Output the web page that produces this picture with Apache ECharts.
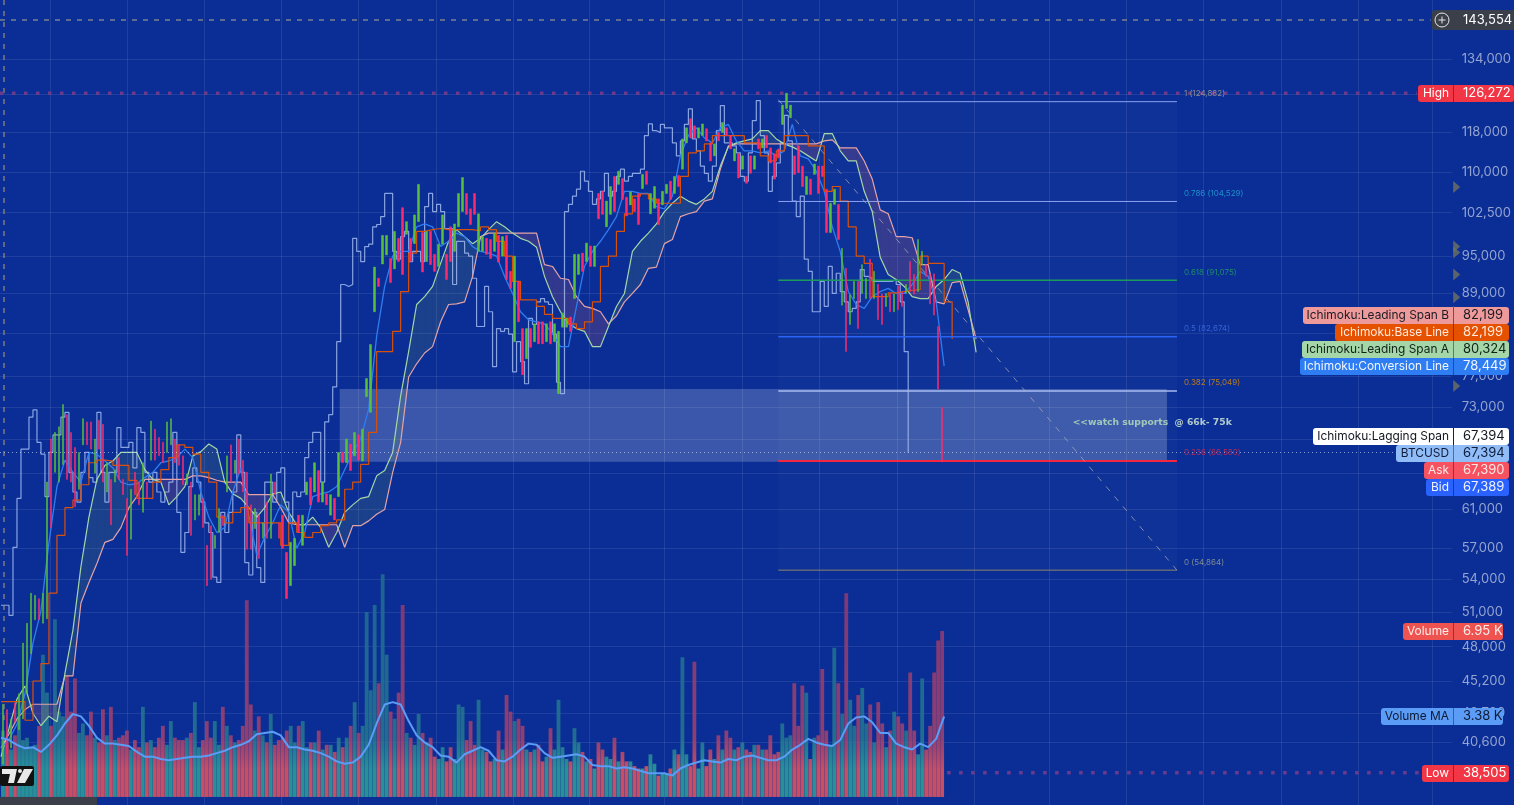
<!DOCTYPE html>
<html><head><meta charset="utf-8">
<style>html,body{margin:0;padding:0;background:#0a2e96;overflow:hidden}#c{width:1514px;height:805px}</style>
<script src="https://cdn.jsdelivr.net/npm/echarts@6/dist/echarts.min.js"></script>
</head><body><div id="c"></div>
<script>
// prices in thousands of USD, candles one per slot
const candleOpen=[39.1,43.0,40.2,43.5,41.5,42.3,44.2,47.4,50.3,52.2,50,50.4,69,65.1,64,66,72,69.8,68,63.2,68.3,71.1,71.1,65,71.3,
70.8,62.9,64.3,64,66.8,64.3,62.2,57.9,65.1,64,60.7,64,66.5,70.2,69.2,68.6,67.4,68.3,69,68.3,67,63.7,64,59.9,60.4,
62.2,57.3,59.3,57,58.6,60.4,62.9,68.3,65,69,66.5,65.1,61.5,59,60.4,58,61.8,58,64,59.6,60.4,56.6,53.4,55.3,60.4,
57.3,62.6,64.5,62.9,65.3,61.8,62.7,60.4,62.2,62.4,67.4,66.2,68.4,67,69.5,66.4,74.3,72.3,86.2,91.4,93.7,95.2,94.6,92.9,98,
103.4,98.7,98,97.1,100.9,99,94.1,99.2,95.3,93.3,97,95.3,100,95.8,100,102.7,106,103.2,106,95.8,95.8,98,97.8,95.8,98.5,
95,98.5,92.5,81.8,90.9,83.7,79.4,83.7,81.8,84.7,84.7,81.8,84.7,81.8,74.7,83.9,83.9,85.4,88.2,92,95.5,94.1,96.7,93.3,106,
106.4,100,102.2,109.2,107.7,108.8,105.3,103.9,105,106,106.9,110.2,102.3,103.3,105,103.9,106,108.3,106,109.4,110.6,115.8,120.8,119.3,116.8,
117.3,118.7,115.8,113.2,117.9,117.9,118.9,117.3,112.2,113.6,110.6,109.2,113.2,110.6,116.6,114.8,117.3,114.8,113.6,114.6,119.6,123,121,113.2,115.2,
111.2,105.8,108.7,109.6,111.2,111.2,106.8,99,104,104,87.2,93,84.3,88.2,90.9,89,88.2,94.5,88.2,90.4,88.9,87,89,86.2,90.2,
89.3,89,94.1,92,89.3,93.6,93.6,92,92.1,84,72.9];
const candleClose=[43.4,39.8,42.3,42.1,44.2,48.3,50,52.7,52.5,50.3,52.7,64,59.1,69.8,70.5,73.3,64.3,64,61.3,67.4,71.5,68.3,67.8,69,67.8,
64,66.2,59.4,65.4,64.3,62.6,56.3,63.2,62.6,61.5,66.2,62.2,71.2,66.5,67,66.2,71.1,71.5,66.2,65.9,63.7,64.9,58.3,62.6,62.6,
59.1,53.4,54,58.3,61.1,59.3,67,64,66.5,64.9,62.9,56.9,56.9,61.1,56,59.6,58,64.9,62.6,58,57,52.2,57.6,58,58.6,
60.4,64,61.5,66.2,61.8,64,61.5,62.6,59.9,67.4,66.2,69,65.3,69.8,66.5,70.2,76.7,81.4,93.2,90.1,98.5,98.5,90.7,99.2,94.1,
92,100.9,94.1,102.1,107.7,92.4,99.2,93.6,92.5,97,102.1,91.2,94.1,100.5,106,109,102.2,100.4,102.2,102.3,98.3,95.3,94.6,98.9,94,
98.3,91.2,89.8,95,84.7,77.2,83.7,81,84.4,81.5,81.5,84.4,81.5,84.4,83.3,86,85.2,83.3,95.3,95.3,92.5,97.2,93.3,96.7,101.4,
102.2,104.6,107.3,102.7,110.2,104.9,101.9,106.3,102.7,100.4,109.6,107.7,106,107.3,100.4,106.4,107.7,104.9,109.2,107.3,116.6,118.9,116.8,116.8,118.9,
119.7,116.2,112.2,115.6,116.2,120,117.3,114.6,114.6,108.9,113.2,107.9,109.8,113.2,114.6,116.6,114.8,111.8,108.7,112.8,123.7,126.3,123.7,109.6,109.9,
107.3,109.2,105.8,111.6,106,109.2,99,104.2,106.8,97.8,96.3,80.4,88.8,90.9,83.7,93.6,91.4,88.2,92.5,85,84.3,89,86.2,88.9,86.5,
87,90.4,89.3,88.9,97.8,95.8,91.7,87.4,85.7,75.3,66.3];
// one value every two slots
const conversionLine=[40.2,40.8,41.9,44.2,48.3,51.1,57.6,63.5,66.5,65.1,64,67.4,67.2,66.4,65.6,64,63.7,63.8,64.5,65.1,66.2,66.4,66.8,67.8,66.8,62.9,60.2,58.6,59.1,62.9,65.6,60.4,56.3,58.1,59.6,61.5,60.7,57,58.6,62.4,62.7,62.9,63.5,65.4,67.4,69,72.7,82.6,90.1,95,95.8,95.8,100,100.5,100,96.6,97.5,98.9,98.3,96.6,95.8,95.5,95,91.7,89,86.2,85,84.7,84.4,83,81.1,81.1,87,93.3,95.8,97.5,99.5,101.8,106.4,106.4,106,106,103.6,103.2,105.5,113.2,117.3,118.9,116.8,115.8,118.9,119.6,116.2,114.2,114.2,113.8,114.2,113.2,114.2,119.6,113.2,112.6,110.2,106.4,100,95.8,89.3,87.3,86.7,88.5,89.3,89.8,89,89,90.4,92.5,91.7,87.7,78.4];
const baseLine=[43.6,43.6,43.6,42.2,45.2,46.6,52.7,58.3,61.2,62,63.7,66.2,66.5,66.4,65.9,65.9,64.2,62.2,62.2,64,65.4,66.8,68.3,68,67.2,65.1,64,60.2,59.6,60.7,61.2,59.6,59.6,59.6,59.6,57.3,59.6,58.6,58.1,58.6,59.3,59.6,59.9,63.2,64,66,69.8,80.4,80.4,83.3,89.3,95.5,99.2,99.5,99.7,99.5,99.5,99.5,99.5,99.3,100,99.5,97.5,95,90.9,88,88,87,85.8,85.2,85.2,84.4,83.7,84.7,87.7,93.3,95,99.2,102.3,105.5,105.9,105,104.2,104.2,104.2,109.2,113.8,114.2,115.6,117.3,117.3,117.3,117.3,115.8,115.8,113.2,112.2,114.2,117.3,117.3,117.3,115.2,115.2,106.4,107.3,104.6,100,95,93.8,88.5,88.5,89.1,89.3,89.5,89.6,95,93.8,93.8,87.7,82.2];
const leadingA=[39.6,41.6,43.8,44.8,42.7,41.8,42.5,42.1,45.8,49.4,55.2,60.2,64.3,65.9,66.4,67.4,67.4,67.4,65.4,64.3,64,61.5,62.4,63.5,67,67.5,68.4,67.8,64,62.7,62.2,61.2,60.2,61.2,62.7,62.9,60.7,59.4,59.4,60.2,59.1,57.1,58.6,60.7,61.5,62.2,62.4,64.7,65.3,67.4,74.4,80.4,87.3,88.5,90.1,93.8,97.5,99.5,98.3,97.1,98,99.5,100.9,100,98.9,98,97.5,96.5,91.7,88.5,86.2,84.4,83.7,83.3,81.1,81.1,84,87,89,95.8,97.5,98.9,100.5,102.7,104.2,105.5,104.6,104,105,106.4,111.2,115,115.8,116.2,116.6,118.3,118.3,116.6,115.6,115,114.2,113.2,112.2,117.7,117.7,114.2,112.2,112.2,106.4,102.7,94.8,92,91.2,90.1,88.5,88.2,88.2,90.1,91.2,92.8,92.2,87.7,80.3];
const leadingB=[40.2,41.2,42.3,43,43.4,43.4,43.4,43.4,45.6,45.6,51.8,53.7,55.5,57.6,57.9,59.1,61.2,62.4,64.3,64.3,64.3,64.3,64.3,64.3,64.7,64.7,64.5,64.2,64,64,64,62.6,62.6,62.6,62.6,61.2,59.6,59.4,59.4,59.4,59.4,59.4,59.4,57.1,59.3,59.3,59.8,60.5,61,65.1,68.6,76.9,78.7,80.2,81.1,84.7,87.3,87.4,87.7,91.7,98.3,98.9,98.9,98.9,98.9,98.9,98.9,98.9,93.6,93.3,91.4,91.2,88.5,87,86.7,86.2,84.4,85.6,87.7,89,90.4,93,93.2,97.1,97.8,101.8,102.3,102.7,104.6,105,110.6,115.2,115.6,115.6,115.6,115.6,115.6,115.6,115.6,115.6,115.6,115.6,115.6,116.2,116.4,114.8,114.8,114.8,112.2,108.7,103,102.3,98.3,98.3,98.1,93.6,93.6,87.7,87.4,90.7,90.9,86.5,82.2];
// one value per slot
const laggingSpan=[51.6,51.6,50.7,57.1,62.2,67.8,67.8,71.7,72.6,68.6,67.2,62.4,67.4,69.5,69.5,71.7,72.3,65.1,62.9,61.8,65.1,67.4,64.5,64,72.3,65.1,61.8,65.1,65.1,70.4,68,68,68.6,65.6,70.4,69.8,65.1,64,65.1,62.9,61.8,62.9,64,69.8,60.7,56.6,58.6,63.5,65.6,64,61.8,59.6,58.6,54.2,53.7,60.7,58.6,60.7,62.9,69.5,65.1,55.6,54.4,60.7,55.1,53.7,64,64,61.8,65.1,65.6,61.8,59.6,62.9,62.4,62.9,66.8,68.6,69.8,69.8,64,71.1,72,75.6,81.8,90.4,90.1,90.4,98,95.8,94.1,96.6,97,100,100.4,101.8,106,106,95.8,94.5,98.3,99.2,94.1,95.8,95.8,94.1,103.6,106,102.7,104,102.7,99.7,99.7,90.4,97.5,97.5,95.5,95,91.4,84,84,90.1,86.2,78.3,83.7,83.3,83.7,82.9,77.6,81.8,79,76,85.2,84.3,87.7,88.2,87.7,87.3,82.9,76.2,74.7,102.7,104,105.5,106.8,110.2,108.3,106.4,104,105,106.4,109.8,105.5,106.4,109.2,110.6,108.3,109.2,109.8,109.8,110.6,117.3,119.7,118.3,117.9,119.6,118.9,118.9,115.8,113.2,116.2,119.6,122.9,116.6,114.2,111.2,109.8,108.3,111.2,118.3,123.6,115.8,115.8,115.2,113.8,109.2,108.3,113.8,120.4,124.7,117.3,113.8,106.4,109.2,111.8,115.8,121.5,116.2,104.6,101.8,105.5,94.5,92.5,86.2,86.2,90.9,87,93.3,89,92.2,89.3,87.7,86.2,86.7,87.7,92.8,91.7,91.4,90.9,90.9,90.9,90.9,90.9,91.2,90.4,87.7,80.4,67.4];
// volume in thousands, one per slot
const volume=[2.8,2.3,2.0,2.6,3.4,2.4,2.5,2.1,2.2,3.0,6.0,4.4,3.0,7.5,3.6,3.4,5.1,3.6,5.0,2.7,3.1,2.6,3.6,2.5,2.3,
3.7,2.6,3.8,2.4,2.5,2.6,2.8,2.0,2.4,2.1,3.8,2.3,2.4,2.1,2.5,3.0,2.2,3.2,2.5,2.4,2.4,2.5,2.7,4.0,2.1,
2.4,3.2,2.5,3.2,2.2,3.8,3.0,2.6,2.3,2.4,3.0,8.3,3.9,2.8,3.4,2.6,2.3,3.5,2.2,2.4,2.5,2.8,3.0,2.3,3.0,
3.2,2.1,2.3,2.3,2.8,2.0,2.2,2.2,1.9,2.5,2.1,2.5,3.0,4.0,2.7,3.0,7.8,4.5,8.1,4.8,9.4,6.0,3.6,3.3,4.4,
8.1,2.7,2.5,2.2,3.5,2.7,2.3,2.5,1.7,1.6,2.1,1.5,2.1,1.6,3.9,3.8,2.4,3.2,2.2,4.1,2.0,1.9,1.5,1.6,2.8,
2.0,4.3,3.6,3.2,3.3,3.0,2.0,1.9,2.0,2.2,1.5,1.7,2.9,2.0,4.1,2.1,1.6,1.5,2.9,2.3,1.9,1.5,1.6,1.2,2.3,
2.0,1.7,1.6,2.5,1.5,1.9,1.5,1.5,1.3,1.2,1.2,1.3,1.8,1.4,0.9,1.0,1.0,1.2,2.0,1.8,5.9,1.8,1.3,5.7,1.2,
2.3,1.3,2.0,1.6,2.6,2.0,2.8,2.5,2.0,2.1,2.3,2.0,1.9,2.2,2.2,2.0,2.0,2.6,1.8,1.9,3.1,2.5,2.6,4.8,3.0,
4.7,4.4,1.6,2.5,2.6,5.4,2.8,2.2,6.3,4.8,3.5,8.6,4.1,3.0,4.3,4.6,3.1,3.9,2.3,4.0,3.1,2.1,2.8,3.6,3.4,
3.1,2.8,5.25,2.8,1.8,5.0,2.0,3.0,5.25,6.6,7.0];
// one value every two slots
const volumeMA=[2.5,2.4,2.2,2.05,2.1,1.9,2.2,2.6,3.1,3.5,3.4,3.0,2.5,2.25,2.25,2.2,2.15,1.9,1.7,1.7,1.6,1.55,1.6,1.65,1.7,1.7,1.75,1.85,1.95,2.1,2.2,2.35,2.65,2.7,2.75,2.6,2.1,2.1,2.0,1.95,1.85,1.7,1.5,1.4,1.45,1.7,2.2,3.1,3.9,4.0,3.9,3.2,2.6,2.3,2.1,1.75,1.7,1.45,1.8,1.95,2.1,1.95,1.55,1.5,1.7,2.0,2.25,2.2,1.85,1.65,1.7,1.75,1.8,1.7,1.35,1.3,1.3,1.2,1.25,1.2,1.1,1.0,1.0,1.0,0.9,1.2,1.35,1.45,1.55,1.5,1.45,1.6,1.55,1.7,1.75,1.65,1.55,1.55,1.7,2.0,2.2,2.45,2.3,2.2,2.15,2.4,3.1,3.35,3.4,3.15,2.7,2.7,2.25,2.1,2.0,2.25,2.1,2.45,3.4];
// axis ticks
const priceTicks=[134000,126000,118000,110000,102500,95000,89000,83000,77000,73000,69000,65000,61000,57000,54000,51000,48000,45200,42700,40600];
const timeTicksSlots=[12.5,31.75,51,70.5,89.75,109.25,128.5,147.5,166.25,185.75,205,224.5,243.75,262.5,281.75,301,320.5,339.75,358.5];
// fibonacci retracement
const fibLevels=[
 {r:'1',v:124882,y:124450,c:'#8da4f0',t:'#8b8f8f',w:1},
 {r:'0.786',v:104529,y:104529,c:'#8da4f0',t:'#1e8fcb',w:1},
 {r:'0.618',v:91075,y:91075,c:'#1c9a5c',t:'#1f8a6a',w:1.5},
 {r:'0.5',v:82674,y:82500,c:'#2b63f5',t:'#3a62cf',w:1.5},
 {r:'0.382',v:75049,y:75049,c:'#a9bcf2',t:'#b87a22',w:1.5},
 {r:'0.236',v:66580,y:66400,c:'#f5263f',t:'#b82a58',w:2},
 {r:'0',v:54864,y:54864,c:'#8a8468',t:'#7f8a94',w:1}];
const fibStart=194.75, fibEnd=294.5, zoneStart=85, zoneEnd=292;
const currentPrice=143554, highPrice=126272, lowPrice=38505, lastPrice=67394;
const markerPrices=[107200,96600,95600,92000,88400,86200,84700,83100,80400,79300,75700];

const tags=[
 {x:1432,y:10,h:20,bg:'#3a3f4a',fg:'#fff',name:'',val:'143,554',xe:1514},
 {x:1418,y:85,h:17,bg:'#f23645',fg:'#fff',name:'High',val:'126,272',xe:1514,div:'#a31c2c'},
 {x:1303,y:307,h:17,bg:'#ef9a9a',fg:'#1a1a24',name:'Ichimoku:Leading Span B',val:'82,199',xe:1509,div:'#7a4a5a'},
 {x:1335,y:324,h:17,bg:'#e65100',fg:'#ffe9dc',name:'Ichimoku:Base Line',val:'82,199',xe:1509,div:'#8a3400'},
 {x:1302,y:341,h:17,bg:'#a5d6a7',fg:'#10201a',name:'Ichimoku:Leading Span A',val:'80,324',xe:1509,div:'#5a7f6a'},
 {x:1300,y:358,h:17,bg:'#2f7df2',fg:'#f0f6ff',name:'Ichimoku:Conversion Line',val:'78,449',xe:1509,div:'#1a4fa8'},
 {x:1313,y:428,h:17,bg:'#ffffff',fg:'#14161f',name:'Ichimoku:Lagging Span',val:'67,394',xe:1509,div:'#222'},
 {x:1396,y:445,h:17,bg:'#90bdf8',fg:'#101c3a',name:'BTCUSD',val:'67,394',xe:1509,div:'#4a6ea8'},
 {x:1424,y:462,h:17,bg:'#f7525f',fg:'#ffe6e8',name:'Ask',val:'67,390',xe:1509,div:'#a32c3a'},
 {x:1426,y:479,h:17,bg:'#2962ff',fg:'#f0f4ff',name:'Bid',val:'67,389',xe:1509,div:'#163a9e'},
 {x:1403,y:623,h:17,bg:'#ef5350',fg:'#ffeceb',name:'Volume',val:'6.95 K',xe:1503,div:'#a3302e'},
 {x:1381,y:708,h:17,bg:'#5b9cf6',fg:'#0e1a33',name:'Volume MA',val:'3.38 K',xe:1503,div:'#2f62ad'},
 {x:1422,y:765,h:17,bg:'#f23645',fg:'#fff',name:'Low',val:'38,505',xe:1509,div:'#a31c2c'}
];

const slot=i=>i+0.75;
const pairs=(arr,step,mult)=>arr.map((v,i)=>[step*i+0.25,v*mult]);
const candleData=candleOpen.map((o,i)=>{const c=candleClose[i];return [slot(i),o*1000,c*1000,Math.min(o,c)*1000,Math.max(o,c)*1000];});
const grad=(a,b,c)=>new echarts.graphic.LinearGradient(0,600,0,797,[{offset:0,color:a},{offset:.7,color:b},{offset:.86,color:c},{offset:1,color:c}],true);
const up=grad('#1f6a92','#23748f','#2c9a98'), down=grad('#8a3a72','#9c406e','#dc525f');
const volD=volume.map((v,i)=>({value:[slot(i),v],itemStyle:{color:candleClose[i]>=candleOpen[i]?up:down}}));
const cloud={type:'custom',coordinateSystem:'cartesian2d',silent:true,z:2,
 data:leadingA.map((a,i)=>[i*2+0.25,a*1000,leadingB[i]*1000]),encode:{x:0,y:[1,2]},
 renderItem(params,api){
  const i=params.dataIndex; if(i>=leadingA.length-1) return;
  const x0=i*2+0.25,x1=(i+1)*2+0.25,a0=leadingA[i]*1000,b0=leadingB[i]*1000,a1=leadingA[i+1]*1000,b1=leadingB[i+1]*1000;
  const pts=[api.coord([x0,a0]),api.coord([x1,a1]),api.coord([x1,b1]),api.coord([x0,b0])];
  const above=(a0+a1)>=(b0+b1);
  return {type:'polygon',shape:{points:pts},style:{fill:above?'rgba(130,175,90,.15)':'rgba(255,110,100,.16)'}};
 }};
const lineS=(name,arr,step,c,w,extra)=>Object.assign({type:'line',name,data:pairs(arr,step,1000),showSymbol:false,symbol:'none',silent:true,lineStyle:{color:c,width:w},z:3},extra||{});
const flat=(name,pts,c,w,dash,extra)=>Object.assign({type:'line',name,data:pts,showSymbol:false,symbol:'none',silent:true,lineStyle:{color:c,width:w,type:dash},z:4},extra||{});
const pxSlots=1453/4;
const fibSeries=fibLevels.map(f=>flat('fib'+f.r,[[fibStart,f.y],[fibEnd,f.y]],f.c,f.w,'solid',{
 endLabel:{show:true,distance:7,offset:[0,-8],formatter:f.r+' ('+f.v.toLocaleString('en-US')+')',color:f.t,fontSize:8,fontFamily:'Inter'}}));
const option={
 animation:false,backgroundColor:'#0a2e96',
 grid:{left:0,top:0,width:1453,height:805,containLabel:false},
 xAxis:{type:'value',min:0,max:pxSlots,axisLine:{show:false},axisTick:{show:false,customValues:timeTicksSlots},axisLabel:{show:false,customValues:timeTicksSlots},
  splitLine:{show:true,lineStyle:{color:'rgba(255,255,255,.09)',width:1}}},
 yAxis:[{type:'log',logBase:10,min:36390,max:148662,position:'right',axisLine:{show:false},axisTick:{show:false,customValues:priceTicks},
  axisLabel:{customValues:priceTicks,margin:10,align:'left',color:'#94a3cf',fontSize:13,fontFamily:'Inter',formatter:v=>Math.round(v).toLocaleString('en-US')},
  splitLine:{show:true,lineStyle:{color:'rgba(255,255,255,.09)',width:1}}},
  {type:'value',min:-0.34,max:33.63,show:false,splitLine:{show:false}}],
 series:[
  cloud,
  {type:'bar',yAxisIndex:1,data:volD,barWidth:3.8,silent:true,z:1,itemStyle:{opacity:.9}},
  {type:'line',name:'Volume MA',yAxisIndex:1,data:pairs(volumeMA,2,1),showSymbol:false,symbol:'none',silent:true,z:6,lineStyle:{color:'#5b9cf6',width:2}},
  lineS('Lagging',laggingSpan,1,'#a9bdf0',1.2,{step:'end',lineStyle:{color:'rgba(160,185,240,.85)',width:1.2}}),
  lineS('LeadingB',leadingB,2,'#e9a0a0',1.2,{lineStyle:{color:'#e4a3a8',width:1.2}}),
  lineS('LeadingA',leadingA,2,'#a5d6a7',1.2,{lineStyle:{color:'#a5d6a7',width:1.2}}),
  lineS('Conversion',conversionLine,2,'#2f7df2',1.3,{z:4}),
  lineS('Base',baseLine,2,'#d9500a',1.2,{step:'end',z:4}),
  {type:'candlestick',data:candleData,encode:{x:0,y:[1,2,3,4]},barWidth:2,silent:true,z:5,
   itemStyle:{color:'#58c03a',color0:'#ff2a6a',borderColor:'#58c03a',borderColor0:'#ff2a6a',borderWidth:0.5}},
  ...fibSeries,
  flat('trend',[[fibStart,124882],[fibEnd,54864]],'rgba(175,175,175,.7)',1,[6,7],{
   markArea:{silent:true,itemStyle:{color:'rgba(255,255,255,.025)'},data:[[{coord:[fibStart,124450]},{coord:[fibEnd,54864]}]]}}),
  flat('zone',[[zoneStart,75300],[zoneStart,75300]],'rgba(0,0,0,0)',0,'solid',{
   markArea:{silent:true,itemStyle:{color:'rgba(255,255,255,.2)'},data:[[{coord:[zoneStart,75300]},{coord:[zoneEnd,66300]}]]}}),
  {type:'scatter',data:[[268.4,71000]],symbolSize:0,silent:true,z:8,label:{show:true,position:'right',distance:0,
   formatter:'{a|<<watch supports}{b|  @ 66k- 75k}',rich:{a:{color:'#b9e4bb',fontSize:9.2,fontWeight:'bold',fontFamily:'DejaVu Sans'},b:{color:'#d9f0d9',fontSize:9.2,fontWeight:'bold',fontFamily:'DejaVu Sans'}}}},
  flat('cross',[[0,currentPrice],[358,currentPrice]],'#b4ad8a',1,[5,6]),
  flat('crossV',[[1,148662],[1,42000]],'#b4a070',1,[5,6]),
  flat('high',[[0,highPrice],[354.5,highPrice]],'#6a3a8c',3.5,[3.5,8.5]),
  flat('low',[[237,lowPrice],[355.5,lowPrice]],'#6a3a8c',3.5,[3.5,8.5]),
  flat('last',[[0,lastPrice],[349,lastPrice]],'rgba(220,230,255,.6)',1,[1,3]),
  {type:'scatter',data:markerPrices.map(v=>[pxSlots,v]),symbol:'triangle',symbolSize:[12,7],symbolRotate:-90,symbolOffset:[5,0],clip:false,silent:true,z:7,itemStyle:{color:'#6f7060'}}
 ],
 graphic:{elements:[
  ...tags.flatMap(t=>{
    const out=[{type:'rect',z:100,shape:{x:t.x,y:t.y,width:t.xe-t.x,height:t.h,r:t.name===''?[4,0,0,4]:3},style:{fill:t.bg}}];
    if(t.div) out.push({type:'rect',z:101,shape:{x:1453,y:t.y,width:1,height:t.h},style:{fill:t.div}});
    if(t.name) out.push({type:'text',z:102,style:{x:1449,y:t.y+t.h/2,text:t.name,fill:t.fg,font:'11.9px Inter',textAlign:'right',textVerticalAlign:'middle'}});
    out.push({type:'text',z:102,style:{x:1463,y:t.y+t.h/2,text:t.val,fill:t.fg,font:'13px Inter',textVerticalAlign:'middle'}});
    return out;}),
  {type:'circle',z:102,shape:{cx:1442,cy:20,r:7},style:{fill:'none',stroke:'#e8e8e8',lineWidth:1}},
  {type:'rect',z:102,shape:{x:1438.5,y:19.5,width:7,height:1},style:{fill:'#e8e8e8'}},
  {type:'rect',z:102,shape:{x:1441.5,y:16.5,width:1,height:7},style:{fill:'#e8e8e8'}},
  {type:'rect',z:100,shape:{x:0,y:797,width:97,height:8},style:{fill:'#3a3f4a'}},
  {type:'rect',z:100,shape:{x:0,y:766,width:34,height:20,r:2},style:{fill:'#111'}},
  {type:'polygon',z:101,shape:{points:[[2,769],[17,769],[14,783],[8,783],[10,774],[2,774]]},style:{fill:'#e8e8e8'}},
  {type:'circle',z:101,shape:{cx:20,cy:771,r:2},style:{fill:'#e8e8e8'}},
  {type:'polygon',z:101,shape:{points:[[24,769],[33,769],[25,783],[17,783]]},style:{fill:'#e8e8e8'}}
 ]}
};
echarts.init(document.getElementById('c'),null,{renderer:'canvas'}).setOption(option);
</script>
</body></html>
